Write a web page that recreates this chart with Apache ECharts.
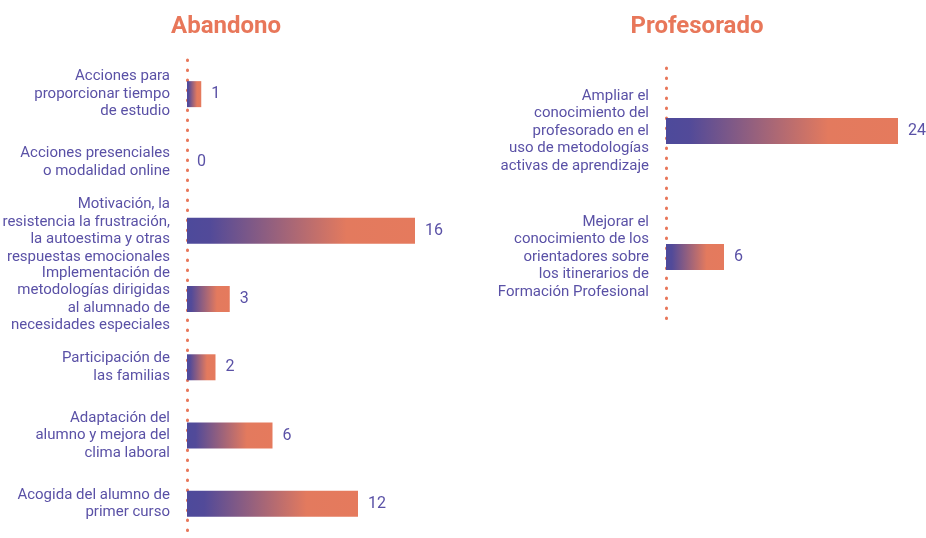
<!DOCTYPE html>
<html>
<head>
<meta charset="utf-8">
<script src="https://cdn.jsdelivr.net/npm/echarts@6/dist/echarts.min.js"></script>
<style>
  html, body { margin: 0; padding: 0; background: #fff; }
  #chart { width: 926px; height: 538px; }
</style>
</head>
<body>
<div id="chart"></div>
<script>
// datos
const abandonoCats = [
  "Acciones para\nproporcionar tiempo\nde estudio",
  "Acciones presenciales\no modalidad online",
  "Motivación, la\nresistencia la frustración,\nla autoestima y otras\nrespuestas emocionales",
  "Implementación de\nmetodologías dirigidas\nal alumnado de\nnecesidades especiales",
  "Participación de\nlas familias",
  "Adaptación del\nalumno y mejora del\nclima laboral",
  "Acogida del alumno de\nprimer curso"
];
const abandonoValues = [1, 0, 16, 3, 2, 6, 12];

const profesoradoCats = [
  "Ampliar el\nconocimiento del\nprofesorado en el\nuso de metodologías\nactivas de aprendizaje",
  "Mejorar el\nconocimiento de los\norientadores sobre\nlos itinerarios de\nFormación Profesional"
];
const profesoradoValues = [24, 6];

const purple = "#5a51a6";
const orange = "#e8775a";

const barColor = new echarts.graphic.LinearGradient(0, 0, 1, 0, [
  { offset: 0, color: "#4d4a9b" },
  { offset: 0.1, color: "#524a99" },
  { offset: 0.7, color: "#e37a5e" },
  { offset: 1, color: "#e57a5d" }
]);

function catAxis(idx, cats) {
  return {
    type: "category",
    gridIndex: idx,
    data: cats,
    inverse: true,
    offset: 3,
    axisTick: { show: false },
    axisLine: {
      show: true,
      lineStyle: { color: orange, width: 3, type: [0.5, 9.5], cap: "round" }
    },
    axisLabel: {
      color: purple,
      fontFamily: "Roboto",
      fontSize: 15,
      lineHeight: 17.5,
      margin: 14,
      align: "right"
    }
  };
}

function valAxis(idx, max) {
  return {
    type: "value",
    gridIndex: idx,
    min: 0,
    max: max,
    show: false,
    splitLine: { show: false }
  };
}

function barSeries(idx, values) {
  return {
    type: "bar",
    xAxisIndex: idx,
    yAxisIndex: idx,
    data: values,
    barWidth: 26,
    itemStyle: { color: barColor },
    label: {
      show: true,
      position: "right",
      distance: 10,
      color: purple,
      fontFamily: "Roboto",
      fontSize: 16
    }
  };
}

const chart = echarts.init(document.getElementById("chart"));
chart.setOption({
  backgroundColor: "#fff",
  animation: false,
  title: [
    {
      text: "Abandono", left: 221, top: 10, textAlign: "center",
      textStyle: { color: orange, fontFamily: "Roboto", fontWeight: "bold", fontSize: 24 }
    },
    {
      text: "Profesorado", left: 692, top: 10, textAlign: "center",
      textStyle: { color: orange, fontFamily: "Roboto", fontWeight: "bold", fontSize: 24 }
    }
  ],
  grid: [
    { left: 187, top: 60, width: 228, height: 478, containLabel: false, outerBoundsMode: "none" },
    { left: 666, top: 68, width: 232, height: 252, containLabel: false, outerBoundsMode: "none" }
  ],
  xAxis: [valAxis(0, 16), valAxis(1, 24)],
  yAxis: [catAxis(0, abandonoCats), catAxis(1, profesoradoCats)],
  series: [barSeries(0, abandonoValues), barSeries(1, profesoradoValues)]
});
</script>
</body>
</html>
